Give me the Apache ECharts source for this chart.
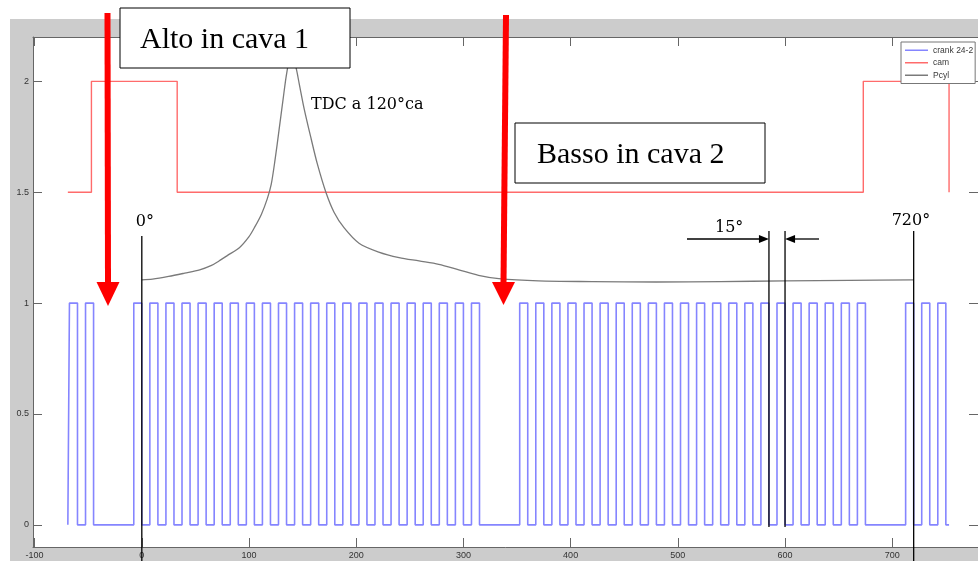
<!DOCTYPE html>
<html>
<head>
<meta charset="utf-8">
<script src="https://cdn.jsdelivr.net/npm/echarts@6/dist/echarts.min.js"></script>
<style>
  html, body { margin: 0; padding: 0; background: #ffffff; }
  #chart { width: 978px; height: 561px; }
</style>
</head>
<body>
<div id="chart"></div>
<script>
// Axis ticks (crank angle in degrees, normalised signal level)
const xTicks = [-100, 0, 100, 200, 300, 400, 500, 600, 700];
const yTicks = [0, 0.5, 1, 1.5, 2];

// Crank wheel 24-2: each tooth as [rising edge, falling edge] in degrees
const crankTeeth = [
  [-67.5, -60], [-52.5, -45],
  [-7.5, 0], [7.5, 15], [22.5, 30], [37.5, 45], [52.5, 60], [67.5, 75],
  [82.5, 90], [97.5, 105], [112.5, 120], [127.5, 135], [142.5, 150], [157.5, 165],
  [172.5, 180], [187.5, 195], [202.5, 210], [217.5, 225], [232.5, 240], [247.5, 255],
  [262.5, 270], [277.5, 285], [292.5, 300], [307.5, 315],
  [352.5, 360], [367.5, 375], [382.5, 390], [397.5, 405], [412.5, 420], [427.5, 435],
  [442.5, 450], [457.5, 465], [472.5, 480], [487.5, 495], [502.5, 510], [517.5, 525],
  [532.5, 540], [547.5, 555], [562.5, 570], [577.5, 585], [592.5, 600], [607.5, 615],
  [622.5, 630], [637.5, 645], [652.5, 660], [667.5, 675],
  [712.5, 720], [727.5, 735], [742.5, 750]
];
const crankRange = [-69, 753];

// Cam signal (level 1.5 / 2)
const camAngle = [-69, -47, -47, 33, 33, 673, 673, 753, 753];
const camValue = [1.5, 1.5, 2, 2, 1.5, 1.5, 2, 2, 1.5];

// Cylinder pressure (scaled)
const pcylAngle = [0, 10, 25, 40, 54, 65, 72, 80, 91, 100, 105, 111.5, 117, 120.7, 124.4,
  128, 131.8, 134.6, 137.5, 139, 140.5, 143.7, 146.8, 151.5, 158, 163.6, 171.7, 179.3,
  188.6, 202.6, 221, 240, 258.6, 277, 295.7, 314, 333, 370, 420, 480, 540, 600, 660, 720];
const pcylValue = [1.105, 1.108, 1.12, 1.135, 1.15, 1.17, 1.19, 1.215, 1.25, 1.3, 1.34,
  1.40, 1.47, 1.535, 1.65, 1.78, 1.92, 2.02, 2.10, 2.125, 2.11, 2.065, 1.99, 1.875, 1.74,
  1.63, 1.50, 1.41, 1.34, 1.27, 1.23, 1.205, 1.19, 1.175, 1.15, 1.125, 1.11, 1.10, 1.097,
  1.095, 1.097, 1.1, 1.102, 1.105];

// Reference angles marked on the plot
const markAngles = { start: 0, gapA: 585, gapB: 600, end: 720 };

// Build step outlines for the square signals
const crankData = [[crankRange[0], 0]];
crankTeeth.forEach(function (t) {
  crankData.push([t[0], 0], [t[0], 1], [t[1], 1], [t[1], 0]);
});
crankData.push([crankRange[1], 0]);
const camData = camAngle.map(function (a, i) { return [a, camValue[i]]; });
const pcylData = pcylAngle.map(function (a, i) { return [a, pcylValue[i]]; });

const chart = echarts.init(document.getElementById('chart'), null, { renderer: 'canvas' });

const axisColor = '#666666';
const labelStyle = { fontSize: 9, color: '#333333', fontFamily: 'Liberation Sans' };

function xAxisDef(pos, showLabel) {
  return {
    type: 'value', position: pos, min: -101.5, max: 780,
    axisLine: { show: true, onZero: false, lineStyle: { color: axisColor, width: 1 } },
    axisTick: { show: true, inside: true, length: 9, customValues: xTicks,
      lineStyle: { color: axisColor } },
    axisLabel: Object.assign({ show: showLabel, margin: 4, customValues: xTicks }, labelStyle),
    splitLine: { show: false }
  };
}
function yAxisDef(pos, showLabel) {
  return {
    type: 'value', position: pos, min: -0.1, max: 2.2,
    axisLine: { show: true, onZero: false, lineStyle: { color: axisColor, width: 1 } },
    axisTick: { show: true, inside: true, length: 9, customValues: yTicks,
      lineStyle: { color: axisColor } },
    axisLabel: Object.assign({ show: showLabel, margin: 4, customValues: yTicks }, labelStyle),
    splitLine: { show: false }
  };
}

chart.setOption({
  animation: false,
  backgroundColor: '#ffffff',
  grid: { left: 33, top: 37, width: 948, height: 510, show: true,
    backgroundColor: '#ffffff', borderWidth: 0 },
  xAxis: [xAxisDef('bottom', true), xAxisDef('top', false)],
  yAxis: [yAxisDef('left', true), yAxisDef('right', false)],
  legend: {
    orient: 'vertical', left: 901, top: 42,
    icon: 'rect', itemWidth: 23, itemHeight: 1.5, itemTextGap: 4,
    padding: [3, 2, 3, 4], itemGap: 2,
    backgroundColor: '#ffffff', borderColor: '#777777', borderWidth: 1, borderRadius: 0,
    textStyle: { fontSize: 8.5, lineHeight: 10.5, color: '#3a3a3a', fontFamily: 'Liberation Sans' },
    data: ['crank 24-2', 'cam', 'Pcyl']
  },
  series: [
    { name: 'crank 24-2', type: 'line', data: crankData, symbol: 'none',
      lineStyle: { color: '#8585ff', width: 1.6 }, itemStyle: { color: '#8585ff' }, z: 3 },
    { name: 'cam', type: 'line', data: camData, symbol: 'none',
      lineStyle: { color: '#ff6b6b', width: 1.4 }, itemStyle: { color: '#ff6b6b' }, z: 3 },
    { name: 'Pcyl', type: 'line', data: pcylData, symbol: 'none', smooth: 0.3,
      lineStyle: { color: '#7a7a7a', width: 1.3 }, itemStyle: { color: '#7a7a7a' }, z: 4 }
  ]
});

// Annotation overlay, anchored to data angles where it refers to them
function px(angle, level) {
  return chart.convertToPixel({ xAxisIndex: 0, yAxisIndex: 0 }, [angle, level]);
}
const xStart = px(markAngles.start, 0)[0];
const xGapA = px(markAngles.gapA, 0)[0];
const xGapB = px(markAngles.gapB, 0)[0];
const xEnd = px(markAngles.end, 0)[0];
const gapLow = px(0, -0.01)[1];

const serif = '"Liberation Serif", "Times New Roman", serif';
const slab = '"DejaVu Serif", serif';

function vline(x, y1, y2) {
  return { type: 'line', z: 100, silent: true,
    shape: { x1: x, y1: y1, x2: x, y2: y2 },
    style: { stroke: '#000000', lineWidth: 1.3 } };
}
function label(text, x, y, font) {
  return { type: 'text', z: 101, silent: true,
    style: { text: text, x: x, y: y, font: font, fill: '#000000',
      align: 'left', verticalAlign: 'middle', textAlign: 'left', textVerticalAlign: 'middle' } };
}
function box(x, y, w, h) {
  return { type: 'rect', z: 100, silent: true,
    shape: { x: x, y: y, width: w, height: h },
    style: { fill: '#ffffff', stroke: '#000000', lineWidth: 1 } };
}

chart.setOption({
  graphic: [
    // figure background
    { type: 'rect', z: -10, silent: true, shape: { x: 10, y: 19, width: 968, height: 542 },
      style: { fill: '#cccccc' } },
    { type: 'rect', z: -9, silent: true, shape: { x: 33, y: 37, width: 948, height: 510 },
      style: { fill: '#ffffff' } },

    // reference angle lines
    vline(xStart, 236, 561),
    vline(xGapA, 231, gapLow),
    vline(xGapB, 231, gapLow),
    vline(xEnd, 231, 561),
    label('0°', xStart - 6, 222, '16px ' + slab),
    label('720°', xEnd - 22, 221, '16px ' + slab),
    label('15°', xGapA - 54, 228, '16px ' + slab),
    label('TDC a 120°ca', 311, 105, '16px ' + slab),

    // 15° dimension arrows
    { type: 'line', z: 100, silent: true, shape: { x1: 687, y1: 239, x2: xGapA - 8, y2: 239 },
      style: { stroke: '#000', lineWidth: 1.3 } },
    { type: 'polygon', z: 100, silent: true,
      shape: { points: [[xGapA - 10, 235], [xGapA, 239], [xGapA - 10, 243]] }, style: { fill: '#000' } },
    { type: 'line', z: 100, silent: true, shape: { x1: xGapB + 8, y1: 239, x2: 819, y2: 239 },
      style: { stroke: '#000', lineWidth: 1.3 } },
    { type: 'polygon', z: 100, silent: true,
      shape: { points: [[xGapB + 10, 235], [xGapB, 239], [xGapB + 10, 243]] }, style: { fill: '#000' } },

    // red arrows
    { type: 'polygon', z: 102, silent: true,
      shape: { points: [[104.5, 13], [110.5, 13], [111, 284], [105, 284]] }, style: { fill: '#ff0000' } },
    { type: 'polygon', z: 102, silent: true,
      shape: { points: [[96.5, 282], [119.5, 282], [108, 306]] }, style: { fill: '#ff0000' } },
    { type: 'polygon', z: 102, silent: true,
      shape: { points: [[503, 15], [509, 15], [506.5, 284], [500.5, 284]] }, style: { fill: '#ff0000' } },
    { type: 'polygon', z: 102, silent: true,
      shape: { points: [[492, 282], [515, 282], [503.5, 305]] }, style: { fill: '#ff0000' } },

    // text boxes
    box(120, 8, 230, 60),
    label('Alto in cava 1', 140, 40, '30px ' + serif),
    box(515, 123, 250, 60),
    label('Basso in cava 2', 537, 155, '30px ' + serif)
  ]
});
</script>
</body>
</html>
